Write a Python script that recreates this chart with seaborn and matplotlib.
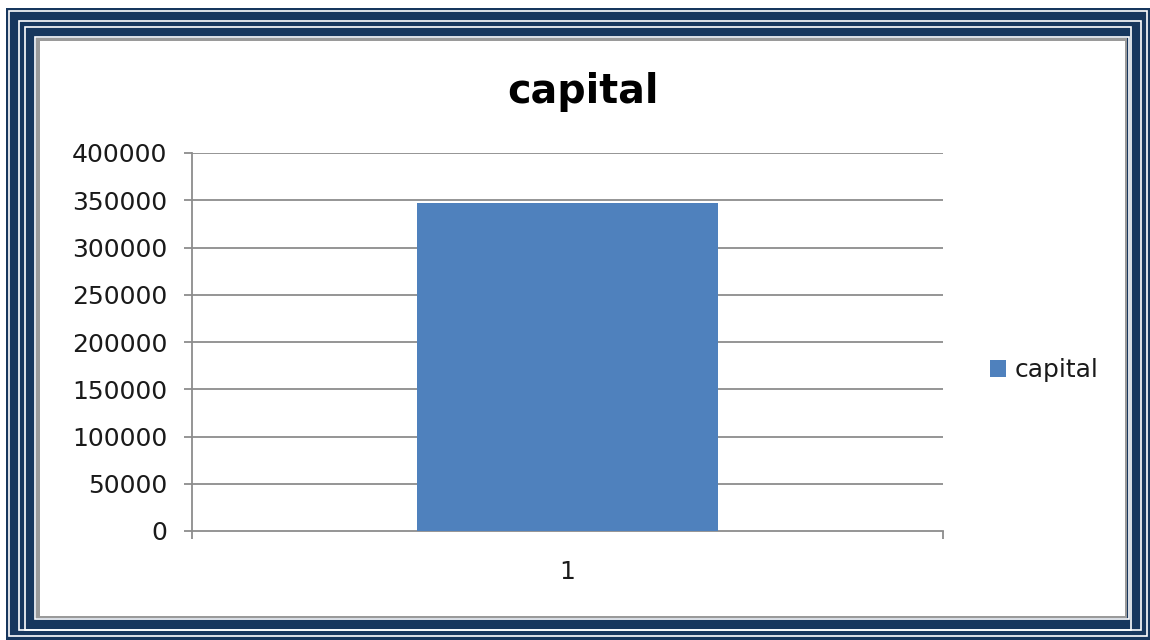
import matplotlib
matplotlib.use("Agg")
import matplotlib.pyplot as plt
from matplotlib.patches import Rectangle, Patch
import seaborn as sns
import pandas as pd

# ---- data ----
categories = ["1"]
capital_values = [347500]
series_name = "capital"
title_text = "capital"
y_ticks = [0, 50000, 100000, 150000, 200000, 250000, 300000, 350000, 400000]

W, H = 1150, 640
sns.set_theme(style="white")
plt.rcParams['font.family'] = ['DejaVu Sans']

fig = plt.figure(figsize=(W / 100, H / 100), dpi=100)
fig.patch.set_facecolor("white")

NAVY = "#17375E"

def px_rect(l, t, r, b, **kw):
    rect = Rectangle((l / W, 1 - b / H), (r - l) / W, (b - t) / H,
                     transform=fig.transFigure, zorder=-10, **kw)
    fig.add_artist(rect)

# decorative frame
px_rect(6, 8, 1152, 642, facecolor=NAVY, edgecolor="none")
for (l, t, r, b) in [(8.5, 10.5, 1146.5, 635.5), (18.5, 20.5, 1140.5, 629.5),
                     (24.5, 26.5, 1130.5, 629.5), (35, 37, 1128.5, 618.5)]:
    px_rect(l, t, r, b, facecolor="none", edgecolor="white", linewidth=1.2)
px_rect(36, 38, 1127, 618, facecolor="#9a9a9a", edgecolor="none")
px_rect(40, 41, 1125, 616, facecolor="white", edgecolor="none")

# axes
ax_l, ax_r, ax_t, ax_b = 192, 943, 153, 531
ax = fig.add_axes([ax_l / W, 1 - ax_b / H, (ax_r - ax_l) / W, (ax_b - ax_t) / H])
ax.set_facecolor("none")

df = pd.DataFrame({"category": categories, "value": capital_values})
BAR = "#4F81BD"
sns.barplot(data=df, x="category", y="value", color=BAR, width=0.4,
            saturation=1, ax=ax, zorder=3, errorbar=None, linewidth=0)

ax.set_xlim(-0.5, 0.5)
ax.set_ylim(0, 400000)
ax.set_yticks(y_ticks)
ax.set_yticklabels([str(v) for v in y_ticks])
ax.set_xlabel("")
ax.set_ylabel("")

GRID = "#8c8c8c"
for v in y_ticks[1:]:
    ax.axhline(v, color=GRID, linewidth=1.3, zorder=1)

for s in ["top", "right"]:
    ax.spines[s].set_visible(False)
for s in ["left", "bottom"]:
    ax.spines[s].set_color(GRID)
    ax.spines[s].set_linewidth(1.3)

ax.tick_params(axis="y", which="major", length=6, width=1.3, color=GRID,
               pad=12, labelsize=18, labelcolor="#1a1a1a", left=True)
ax.set_xticks([-0.5, 0.5], minor=True)
ax.tick_params(axis="x", which="minor", length=6, width=1.3, color=GRID, bottom=True)
ax.tick_params(axis="x", which="major", length=0, pad=21, labelsize=18,
               labelcolor="#1a1a1a")

fig.text(583 / W, 1 - 92 / H, title_text, ha="center", va="center",
         fontsize=28.5, fontweight="bold", color="black")

handle = Patch(facecolor=BAR, edgecolor="none", label=series_name)
fig.legend(handles=[handle], loc="center left", bbox_to_anchor=(990 / W, 1 - 370 / H),
           frameon=False, fontsize=18, handlelength=0.65, handleheight=0.65,
           handletextpad=0.35, borderpad=0, borderaxespad=0, labelcolor="#1a1a1a")

fig.savefig("out.png", dpi=100)
